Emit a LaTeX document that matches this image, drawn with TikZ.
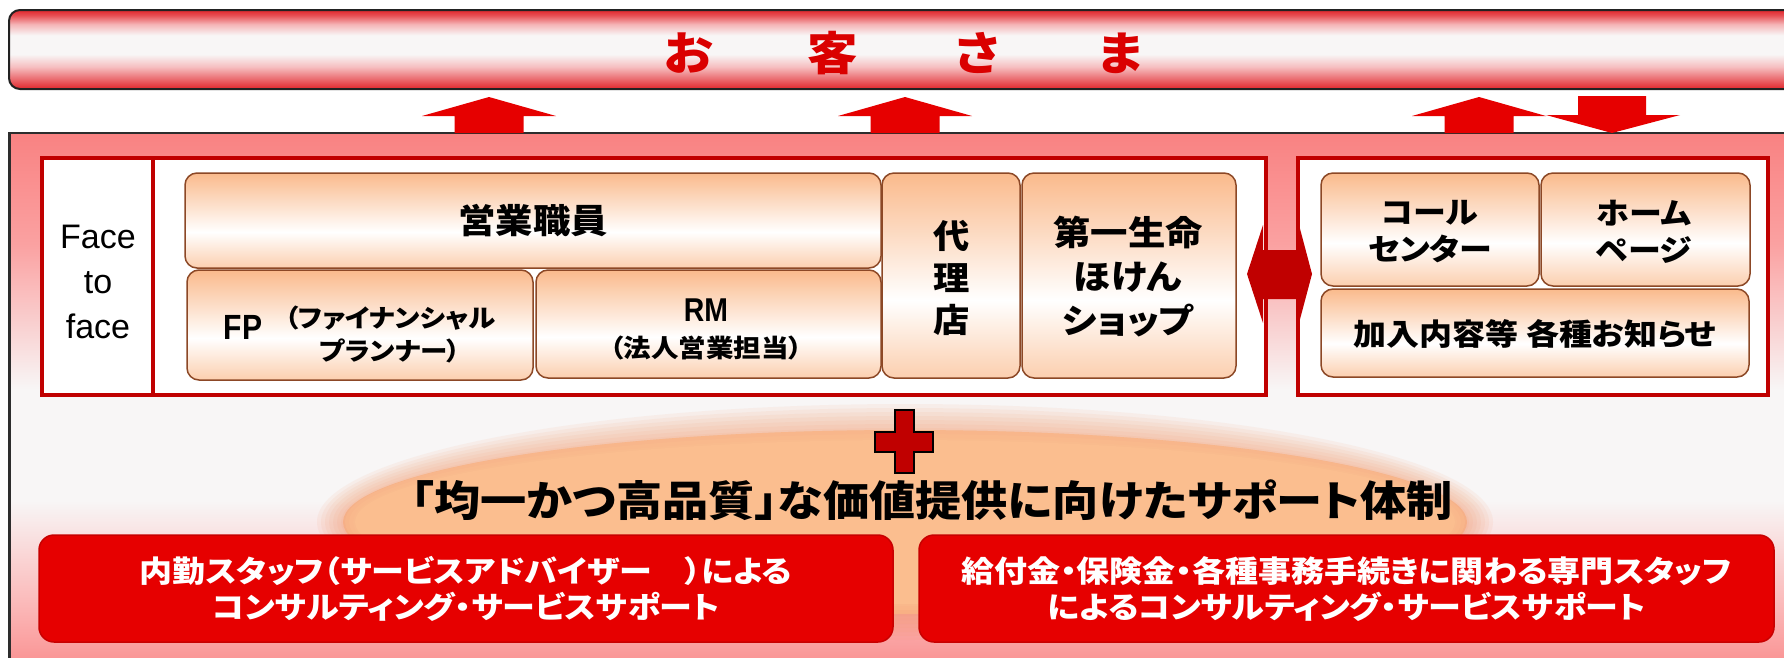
\documentclass[tikz,border=0pt]{standalone}
\usepackage{fontspec}
\setmainfont{Liberation Sans}
\newfontfamily\jp[FakeStretch=1.1,RawFeature={+palt}]{Noto Sans CJK JP}
\newfontfamily\narrowsans[FakeStretch=0.86]{Liberation Sans}
\newcommand\jpfs[2]{\jp\bfseries\fontsize{#1}{#2}\selectfont}
\newcommand\lafs[2]{\fontsize{#1}{#2}\selectfont}

\definecolor{bred}{RGB}{225,38,44}
\definecolor{barwhite}{RGB}{248,246,246}
\definecolor{barline}{RGB}{34,34,34}
\definecolor{arrred}{RGB}{230,0,0}
\definecolor{mpink}{RGB}{249,130,130}
\definecolor{mwhite}{RGB}{248,246,246}
\definecolor{panelline}{RGB}{45,45,45}
\definecolor{framecol}{RGB}{192,0,0}
\definecolor{peach}{RGB}{250,186,140}
\definecolor{brownline}{RGB}{140,72,38}
\definecolor{boxred}{RGB}{230,0,0}
\definecolor{rboxline}{RGB}{200,0,0}
\definecolor{blobin}{RGB}{251,190,143}
\definecolor{blobrim}{RGB}{244,140,90}
\definecolor{custred}{RGB}{218,0,0}
\definecolor{crossred}{RGB}{192,0,0}

\pgfdeclareverticalshading{barsh}{100bp}{color(0bp)=(bred); color(25bp)=(bred); color(30bp)=(bred!75!white); color(39bp)=(bred!30!white); color(47bp)=(barwhite); color(59bp)=(barwhite); color(66bp)=(bred!35!white); color(71.5bp)=(bred!80!white); color(75bp)=(bred); color(100bp)=(bred)}
\pgfdeclareverticalshading{mainsh}{100bp}{color(0bp)=(mpink); color(25bp)=(mpink); color(32bp)=(mpink!60!white); color(42bp)=(mwhite); color(52bp)=(mwhite); color(65bp)=(mpink!75!white); color(75bp)=(mpink); color(100bp)=(mpink)}
\pgfdeclareverticalshading{boxsh}{100bp}{color(0bp)=(peach!70!white); color(25bp)=(peach!70!white); color(44bp)=(white); color(75bp)=(peach); color(100bp)=(peach)}

\begin{document}
\begin{tikzpicture}[x=1pt,y=-1pt,
  ibox/.style={draw=brownline, line width=1.5, rounded corners=12, shade, shading=boxsh, inner sep=0},
  frm/.style={draw=framecol, line width=4, fill=white, inner sep=0},
  rbox/.style={draw=rboxline, line width=1.5, fill=boxred, rounded corners=15, text=white, align=center, inner sep=0, font=\jpfs{30}{36}},
  jtxt/.style={align=center, inner sep=0},
  blockarrow/.style={fill=arrred},
]
\useasboundingbox (0,0) rectangle (1784,657);
\clip (0,0) rectangle (1784,657);
\fill[white] (0,0) rectangle (1784,657);

% customers bar
\shadedraw[shading=barsh, draw=barline, line width=2, rounded corners=11] (9,10) rectangle (1820,89);
\node[inner sep=0, text=custred, font=\jpfs{46}{50}] (cust) at (905,53)
  {\makebox[144pt]{お}\makebox[144pt]{客}\makebox[144pt]{さ}\makebox[144pt]{ま}};

% main panel
\shadedraw[shading=mainsh, draw=panelline, line width=2.5] (9.5,133) rectangle (1820,690);

% block arrows
\foreach \c in {489,905,1479}{
  \fill[blockarrow] (\c,97) -- ++(67,19) -- ++(-32.5,0) -- ++(0,17) -- ++(-69,0) -- ++(0,-17) -- ++(-32.5,0) -- cycle;
}
\fill[blockarrow] (1578,96) -- (1646,96) -- (1646,115) -- (1680,115) -- (1612,133) -- (1546,115) -- (1578,115) -- cycle;

% orange glow
\foreach \d in {26,22,...,0}{
  \fill[blobrim, opacity=0.08] (905,522) ellipse ({562+\d} and {92+\d});
}
\fill[blobrim!40!blobin, opacity=0.7] (905,522) ellipse (562 and 92);
\foreach \d in {8,4,0}{
  \fill[blobin, opacity=0.4] (905,522) ellipse ({552+\d} and {84+\d});
}
\fill[blobin] (905,522) ellipse (550 and 82);

% frames
\node[frm, minimum width=1224, minimum height=237] (f2f) at (654,276.5) {};
\node[frm, minimum width=470, minimum height=237] (web) at (1533,276.5) {};
\draw[framecol, line width=4] ([xshift=113pt]f2f.north west) -- ([xshift=113pt]f2f.south west);
\node[jtxt, font=\lafs{34}{45}] (t-f2f) at (98,282) {Face\\to\\face};

% inner boxes
\node[ibox, minimum width=696, minimum height=95] (eigyo) at (533,220.5) {};
\node[ibox, minimum width=346, minimum height=110] (fp) at (360,325) {};
\node[ibox, minimum width=345, minimum height=108] (rm) at (708.5,324) {};
\node[ibox, minimum width=138, minimum height=205] (dairi) at (951,275.5) {};
\node[ibox, minimum width=214, minimum height=205] (shop) at (1129,275.5) {};
\node[ibox, minimum width=218, minimum height=113] (call) at (1430,229.5) {};
\node[ibox, minimum width=209, minimum height=113] (home) at (1645.5,229.5) {};
\node[ibox, minimum width=428, minimum height=88] (info) at (1535,333) {};

\node[jtxt, font=\jpfs{34}{40}] (t-eigyo) at (eigyo) {営業職員};
\node[jtxt, font=\narrowsans\bfseries\fontsize{35}{40}\selectfont] (t-fp) at (243,327) {FP};
\node[jtxt, font=\jpfs{25}{33}] (t-fpj) at (390,334) {（ファイナンシャル\\プランナー）};
\node[jtxt, font=\narrowsans\bfseries\fontsize{33}{38}\selectfont] (t-rm) at (706,310) {RM};
\node[jtxt, font=\jpfs{25}{33}] (t-rmj) at (706,348) {（法人営業担当）};
\node[jtxt, font=\jpfs{33}{42}] (t-dairi) at (952,278) {代\\理\\店};
\node[jtxt, font=\jpfs{34}{44}] (t-shop) at (1128,277) {第一生命\\ほけん\\ショップ};
\node[jtxt, font=\jpfs{30}{37}] (t-call) at (1430,232) {コール\\センター};
\node[jtxt, font=\jpfs{30}{37}] (t-home) at (1644,232) {ホーム\\ページ};
\node[jtxt, font=\jpfs{30}{36}] (t-info) at (1535,334) {加入内容等 各種お知らせ};

% double arrow between the two frames
\fill[crossred] (1247,274) -- (1263,225) -- (1263,250) -- (1299,250) -- (1299,225) -- (1312,274) -- (1299,323) -- (1299,299) -- (1263,299) -- (1263,323) -- cycle;

% plus sign
\filldraw[fill=crossred, draw=black, line width=1.2] (895,410) -- (914,410) -- (914,432) -- (933,432) -- (933,452) -- (914,452) -- (914,473) -- (895,473) -- (895,452) -- (875,452) -- (875,432) -- (895,432) -- cycle;

% title
\node[jtxt, font=\jpfs{42}{48}] (title) at (932,500) {「均一かつ高品質」な価値提供に向けたサポート体制};

% support boxes
\node[rbox, minimum width=854, minimum height=107] (inhouse) at (466,588.5)
  {内勤スタッフ（サービスアドバイザー　）による\\コンサルティング・サービスサポート};
\node[rbox, minimum width=855, minimum height=107] (expert) at (1346.5,588.5)
  {給付金・保険金・各種事務手続きに関わる専門スタッフ\\によるコンサルティング・サービスサポート};
\end{tikzpicture}
\end{document}
